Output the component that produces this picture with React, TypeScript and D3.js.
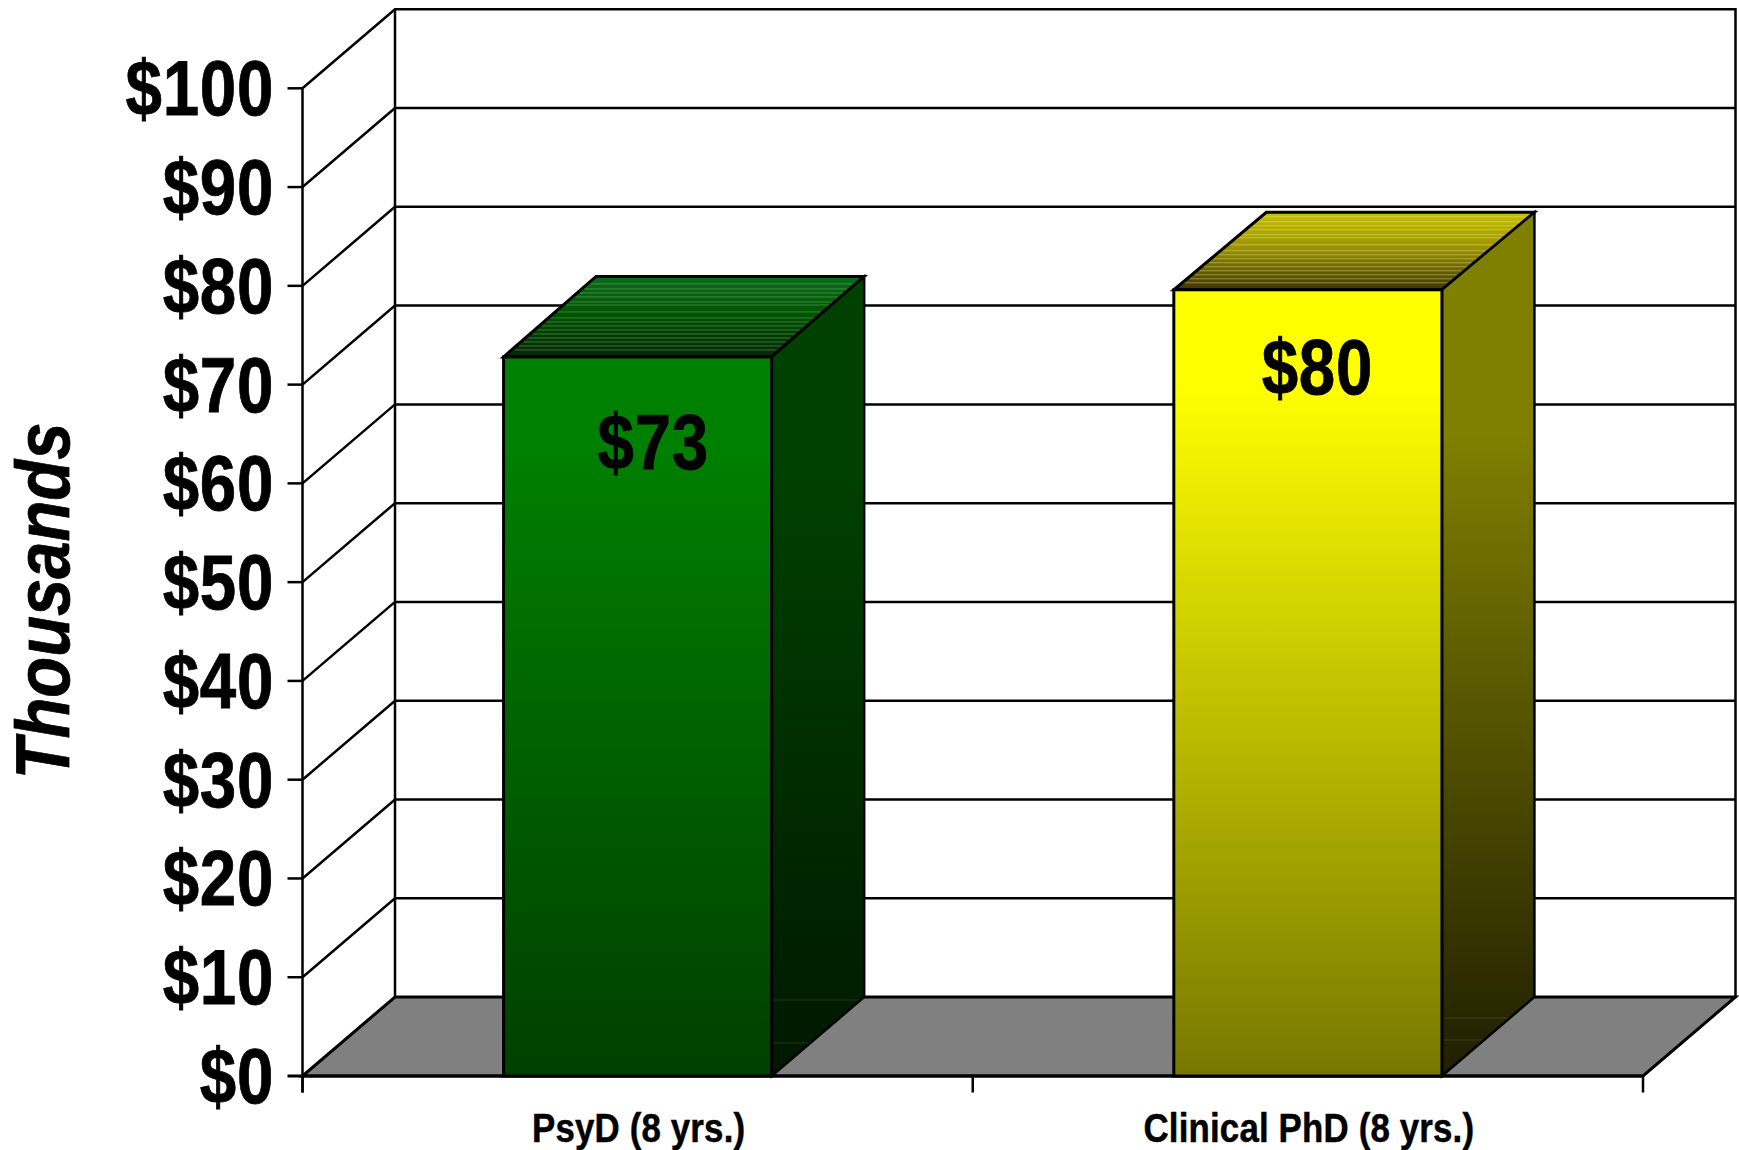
import React from "react";
import * as d3 from "d3";

const categories = ["PsyD (8 yrs.)", "Clinical PhD (8 yrs.)"];
const values = [72.8, 79.6];
const valueLabels = ["$73", "$80"];
const tickValues = [0, 10, 20, 30, 40, 50, 60, 70, 80, 90, 100];
const yTitle = "Thousands";
const frontColors = [["#008000", "#003f00"], ["#ffff00", "#777700"]];
const sideColors = [["#004000", "#001800"], ["#808000", "#201e00"]];
const topColors = [["#062406", "#005500", "#0c6c1c"], ["#3c3400", "#9c9400", "#c8c000"]];
const stripeColors = ["#8fc88f", "#f0f0b0"];
const stripeOffsets = [7, 11, 15, 19, 23, 27, 31, 35, 39, 45, 52, 55, 60, 64, 68, 73];
const sideSeams = [[1000, 1043], [1018, 1040]];
const barDepths = [80.5, 77.5];
const labelOffsets = [[15.5, 112], [9.5, 104]];

const FONT = "'Liberation Sans', Arial, sans-serif";
const W = 1739, H = 1150;
const DX = 92.5, DY = 79;
const x = d3.scaleBand<string>().domain(categories).range([302.5, 1643]);
const y = d3.scaleLinear().domain([0, 100]).range([1076, 88.3]);
const barW = x.bandwidth() * 0.4;
const pts = (a: number[][]) => a.map((p) => p.join(",")).join(" ");

function Txt({ tx, ty, size, anchor = "middle", children, italic = false, rotate = 0, sx = 0.84, sw = 0.8, ls = 0.8 }: any) {
  return (
    <text
      transform={`translate(${tx},${ty}) rotate(${rotate}) scale(${sx},1)`}
      fontFamily={FONT}
      fontWeight="bold"
      fontStyle={italic ? "italic" : "normal"}
      fontSize={size}
      textAnchor={anchor}
      letterSpacing={ls}
      fill="#000"
      stroke="#000"
      strokeWidth={sw}
    >
      {children}
    </text>
  );
}

export default function App() {
  const x0 = 302.5, x1 = 1643;
  const y0 = y(0), y100 = y(100);
  const gw = 2.5;
  return (
    <svg width={W} height={H} style={{ position: "absolute", left: 0, top: 0, background: "#fff" }}>
      <defs>
        {categories.map((c, i) => {
          const top = y(values[i]);
          const d = barDepths[i];
          return (
            <React.Fragment key={c}>
              <linearGradient id={`front${i}`} gradientUnits="userSpaceOnUse" x1="0" x2="0" y1={top} y2={y0}>
                <stop offset="0" stopColor={frontColors[i][0]} />
                <stop offset="0.12" stopColor={frontColors[i][0]} />
                <stop offset="1" stopColor={frontColors[i][1]} />
              </linearGradient>
              <linearGradient id={`side${i}`} gradientUnits="userSpaceOnUse" x1="0" x2="0" y1={top - d} y2={y0}>
                <stop offset="0" stopColor={sideColors[i][0]} />
                <stop offset="0.25" stopColor={sideColors[i][0]} />
                <stop offset="1" stopColor={sideColors[i][1]} />
              </linearGradient>
              <linearGradient id={`top${i}`} gradientUnits="userSpaceOnUse" x1="0" x2="0" y1={top} y2={top - d}>
                <stop offset="0" stopColor={topColors[i][0]} />
                <stop offset="0.55" stopColor={topColors[i][1]} />
                <stop offset="1" stopColor={topColors[i][2]} />
              </linearGradient>
            </React.Fragment>
          );
        })}
      </defs>

      {/* back wall and gridlines */}
      <polyline points={pts([[x0, y100], [x0 + DX, y100 - DY], [x1 + DX, y100 - DY], [x1 + DX, y0 - DY]])} fill="none" stroke="#000" strokeWidth={gw} />
      {tickValues.slice(1, -1).map((t) => (
        <polyline key={t} points={pts([[x0, y(t)], [x0 + DX, y(t) - DY], [x1 + DX, y(t) - DY]])} fill="none" stroke="#000" strokeWidth={gw} />
      ))}
      <line x1={x0 + DX} x2={x0 + DX} y1={y100 - DY} y2={y0 - DY} stroke="#000" strokeWidth={gw} />

      {/* floor */}
      <polygon points={pts([[x0, y0], [x0 + DX, y0 - DY], [x1 + DX, y0 - DY], [x1, y0]])} fill="#808080" stroke="#000" strokeWidth={3} />

      {/* front axes */}
      <line x1={x0} x2={x0} y1={y100} y2={1092.5} stroke="#000" strokeWidth={gw} />
      <line x1={x0 - 15} x2={x1} y1={y0} y2={y0} stroke="#000" strokeWidth={3} />
      {tickValues.slice(1).map((t) => (
        <line key={t} x1={x0 - 15} x2={x0} y1={y(t)} y2={y(t)} stroke="#000" strokeWidth={gw} />
      ))}
      {[x0, (x0 + x1) / 2, x1].map((t) => (
        <line key={t} x1={t} x2={t} y1={y0} y2={1092.5} stroke="#000" strokeWidth={gw} />
      ))}

      {/* bars */}
      {categories.map((c, i) => {
        const cx = x(c)! + x.bandwidth() / 2;
        const l = cx - barW / 2, r = cx + barW / 2;
        const t = y(values[i]);
        const d = barDepths[i];
        const k = DX / d;
        return (
          <g key={c}>
            <polygon points={pts([[l, t], [r, t], [r + DX, t - d], [l + DX, t - d]])} fill={`url(#top${i})`} stroke="#000" strokeWidth={3} />
            {stripeOffsets.map((o) => (
              <line key={o} x1={l + o * k + 3} x2={r + o * k - 3} y1={t - o} y2={t - o} stroke={stripeColors[i]} strokeOpacity={0.4} strokeWidth={1} />
            ))}
            <polygon points={pts([[r, t], [r + DX, t - d], [r + DX, y0 - DY], [r, y0]])} fill={`url(#side${i})`} stroke="#000" strokeWidth={2.5} />
            {sideSeams[i].map((s) => (
              <line key={s} x1={r + 2} x2={r + Math.min(DX, (y0 - s) * (DX / DY)) - 2} y1={s} y2={s} stroke="#fff" strokeOpacity={0.12} strokeWidth={1} />
            ))}
            <rect x={l} y={t} width={barW} height={y0 - t} fill={`url(#front${i})`} stroke="#000" strokeWidth={3} />
            <Txt tx={cx + labelOffsets[i][0]} ty={t + labelOffsets[i][1]} size={78}>{valueLabels[i]}</Txt>
            <Txt tx={cx + 1} ty={1141.5} size={41} sx={0.85} sw={0.5} ls={0.2}>{c}</Txt>
          </g>
        );
      })}

      {/* y tick labels */}
      {tickValues.map((t) => (
        <Txt key={t} tx={274} ty={y(t) + 27} size={78} anchor="end">{`$${t}`}</Txt>
      ))}
      <Txt tx={69} ty={601} size={76} italic rotate={-90} sx={0.88} ls={0}>{yTitle}</Txt>
    </svg>
  );
}
